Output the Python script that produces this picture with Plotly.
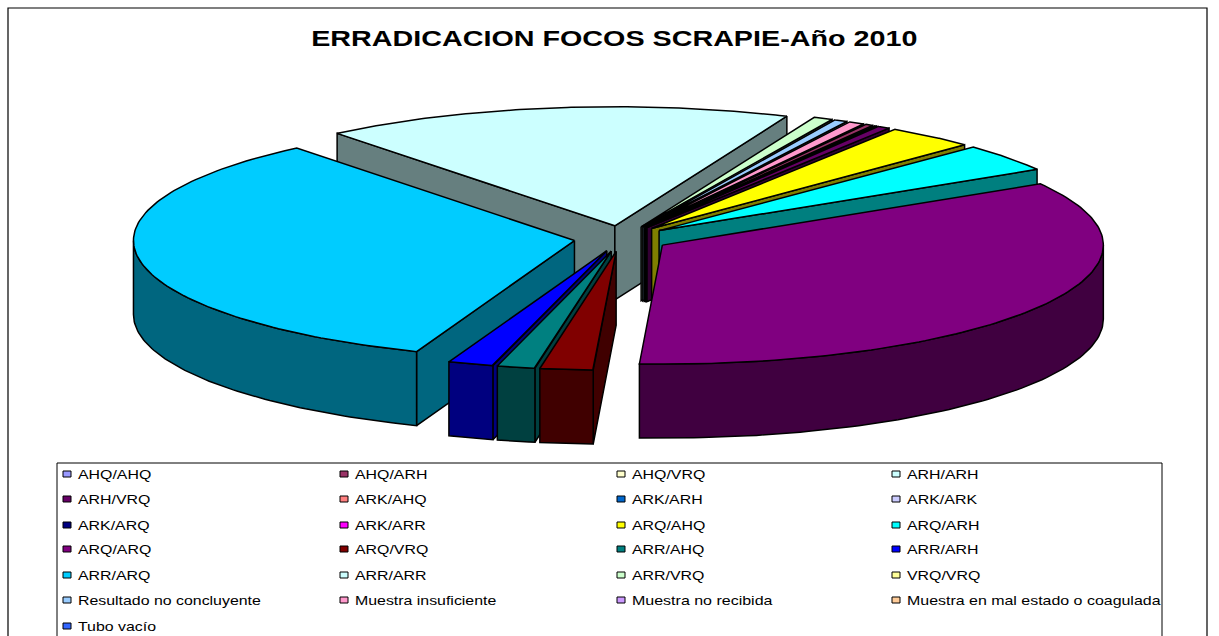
import numpy as np
import plotly.graph_objects as go

TITLE = "ERRADICACION FOCOS SCRAPIE-Año 2010"
categories = ["AHQ/AHQ", "AHQ/ARH", "AHQ/VRQ", "ARH/ARH", "ARH/VRQ", "ARK/AHQ", "ARK/ARH", "ARK/ARK",
              "ARK/ARQ", "ARK/ARR", "ARQ/AHQ", "ARQ/ARH", "ARQ/ARQ", "ARQ/VRQ", "ARR/AHQ", "ARR/ARH",
              "ARR/ARQ", "ARR/ARR", "ARR/VRQ", "VRQ/VRQ", "Resultado no concluyente", "Muestra insuficiente",
              "Muestra no recibida", "Muestra en mal estado o coagulada", "Tubo vacío"]
# share of the total, in percent
values = [0, 0.33, 0, 0.14, 0.5, 0, 0, 0,
          0, 0, 3.31, 3.83, 34.44, 1.94, 1.39, 1.67,
          33.33, 17.22, 0.75, 0, 0.53, 0.62,
          0, 0, 0]
colors = ["#9999FF", "#993366", "#FFFFCC", "#CCFFFF", "#660066", "#FF8080", "#0066CC", "#CCCCFF",
          "#000080", "#FF00FF", "#FFFF00", "#00FFFF", "#800080", "#800000", "#008080", "#0000FF",
          "#00CCFF", "#CCFFFF", "#CCFFCC", "#FFFF99", "#99CCFF", "#FF99CC",
          "#CC99FF", "#FFCC99", "#3366FF"]

# pie geometry, in page pixels
START_DEG = 29.8
CX, CY = 621.5, 238.5
RX, RY = 441, 119
EXPLODE = 0.108
DEPTH = 74
INK = "#000000"


def darker(hex_color):
    r, g, b = (int(hex_color[i:i + 2], 16) for i in (1, 3, 5))
    return f"rgb({r // 2},{g // 2},{b // 2})"


def face(fig, xs, ys, fill):
    fig.add_trace(go.Scatter(x=list(xs), y=list(ys), mode="lines", fill="toself", fillcolor=fill,
                             line=dict(color=INK, width=1.5), hoverinfo="skip", showlegend=False))


fig = go.Figure()

total = sum(values)
slices = []
angle = START_DEG
for name, v, c in zip(categories, values, colors):
    span = v / total * 360
    if v > 0:
        slices.append((np.radians(angle), np.radians(angle + span), c))
    angle += span
slices.sort(key=lambda s: -np.cos((s[0] + s[1]) / 2))

for t0, t1, color in slices:
    mid = (t0 + t1) / 2
    ax = CX + EXPLODE * RX * np.sin(mid)
    ay = CY - EXPLODE * RY * np.cos(mid)
    px = lambda t: ax + RX * np.sin(t)
    py = lambda t: ay - RY * np.cos(t)
    wall = darker(color)
    # radial wall on the clockwise-start side
    if np.sin(t0) < 0:
        face(fig, [ax, px(t0), px(t0), ax, ax],
             [ay, py(t0), py(t0) + DEPTH, ay + DEPTH, ay], wall)
    # radial wall on the clockwise-end side
    if np.sin(t1) > 0:
        face(fig, [ax, px(t1), px(t1), ax, ax],
             [ay, py(t1), py(t1) + DEPTH, ay + DEPTH, ay], wall)
    # curved outer wall, front half only
    for lo, hi in [(max(t0, np.pi / 2), min(t1, 3 * np.pi / 2)),
                   (max(t0, 5 * np.pi / 2), min(t1, 7 * np.pi / 2))]:
        if hi > lo:
            t = np.linspace(lo, hi, 80)
            face(fig, np.r_[px(t), px(t[::-1]), px(t[0])],
                 np.r_[py(t), py(t[::-1]) + DEPTH, py(t[0])], wall)
    # top surface
    t = np.linspace(t0, t1, 120)
    face(fig, np.r_[ax, px(t), ax], np.r_[ay, py(t), ay], color)

# legend grid, in page pixels
LEG_COLS = [67, 344, 621, 896]
LEG_ROWS = [474, 499, 525, 549, 575, 600, 626]
shapes = [
    dict(type="rect", xref="x", yref="y", x0=8, y0=8, x1=1207, y1=660,
         line=dict(color=INK, width=1.2), layer="below"),
    dict(type="rect", xref="x", yref="y", x0=57, y0=463, x1=1162, y1=660,
         line=dict(color=INK, width=1), fillcolor="white"),
]
annotations = [dict(x=614.5, y=38, xref="x", yref="y", text=f"<b>{TITLE}</b>", showarrow=False,
                    font=dict(family="Liberation Sans", size=22, color="black"))]
for i, (name, c) in enumerate(zip(categories, colors)):
    col, row = i % 4, i // 4
    x, y = LEG_COLS[col], LEG_ROWS[row]
    shapes.append(dict(type="rect", xref="x", yref="y", x0=x - 4, x1=x + 4, y0=y - 3, y1=y + 3,
                       fillcolor=c, line=dict(color=INK, width=1)))
    annotations.append(dict(x=x + 9, y=y, xref="x", yref="y", text=name, showarrow=False, xanchor="left",
                            font=dict(family="Liberation Sans", size=13, color="black")))

fig.update_layout(
    width=1219, height=636, margin=dict(l=0, r=0, t=0, b=0), autosize=False,
    paper_bgcolor="white", plot_bgcolor="white", showlegend=False,
    xaxis=dict(range=[0, 1219], visible=False, fixedrange=True),
    yaxis=dict(range=[636, 0], visible=False, fixedrange=True),
    shapes=shapes, annotations=annotations,
)

# the reference's text is stretched sideways; widen the real SVG text to the same width
WIDEN_JS = """
document.body.style.margin='0';document.body.style.overflow='hidden';
function widen(){document.querySelectorAll('.annotation-text').forEach(function(t){
  if(t.getAttribute('textLength'))return;
  var big=parseFloat(t.style.fontSize)>15, k=big?1.305:1.222, b=t.getBBox();
  t.setAttribute('text-anchor','start');
  t.setAttribute('x',big?b.x-(k-1)*b.width/2:b.x);
  t.setAttribute('textLength',b.width*k);
  t.setAttribute('lengthAdjust','spacingAndGlyphs');
});}
widen();setTimeout(widen,60);
"""
fig.write_html("out.html", config={"displayModeBar": False, "staticPlot": True}, post_script=WIDEN_JS)
